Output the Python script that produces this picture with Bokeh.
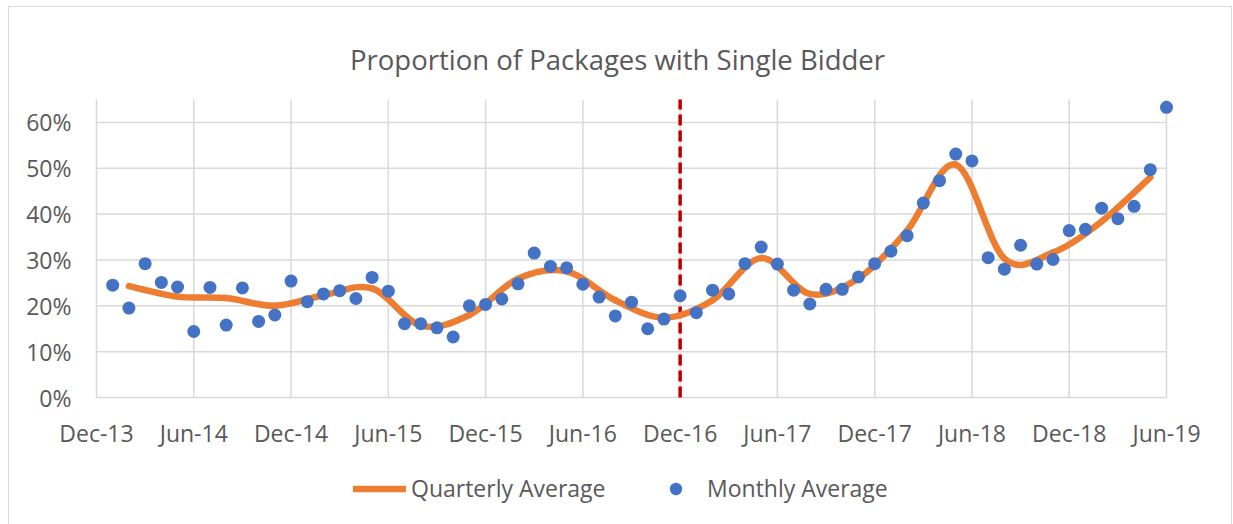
import pandas as pd
from bokeh.plotting import figure
from bokeh.models import Label, Legend, LegendItem, Range1d, ColumnDataSource
from bokeh.core.properties import value
from bokeh.embed import file_html
from bokeh.resources import INLINE

# ---------------- data ----------------
title_text = "Proportion of Packages with Single Bidder"
axis_origin = "2013-12"          # first x tick (Dec-13)
monthly_first, monthly_last = "2014-01", "2019-06"
monthly_avg = [
    0.245, 0.195, 0.292, 0.251, 0.241, 0.144, 0.240, 0.158, 0.239, 0.166, 0.180, 0.254,
    0.209, 0.226, 0.233, 0.216, 0.262, 0.232, 0.161, 0.161, 0.152, 0.132, 0.200, 0.203,
    0.215, 0.248, 0.315, 0.286, 0.283, 0.247, 0.219, 0.178, 0.208, 0.150, 0.171, 0.222,
    0.185, 0.234, 0.226, 0.292, 0.328, 0.291, 0.234, 0.204, 0.236, 0.236, 0.263, 0.292,
    0.319, 0.353, 0.424, 0.473, 0.531, 0.516, 0.305, 0.280, 0.332, 0.291, 0.301, 0.364,
    0.367, 0.413, 0.390, 0.417, 0.497, 0.633,
]
quarter_first, quarter_last = "2014Q1", "2019Q2"
quarterly_avg = [
    0.243, 0.220, 0.217, 0.200, 0.223, 0.238, 0.157, 0.180, 0.259, 0.275, 0.212,
    0.174, 0.212, 0.304, 0.226, 0.260, 0.364, 0.508, 0.303, 0.316, 0.384, 0.480,
]
tick_labels = ["Dec-13", "Jun-14", "Dec-14", "Jun-15", "Dec-15", "Jun-16",
               "Dec-16", "Jun-17", "Dec-17", "Jun-18", "Dec-18", "Jun-19"]
marker_month = "2016-12"
y_ticks = [0.0, 0.1, 0.2, 0.3, 0.4, 0.5, 0.6]
y_labels = ["0%", "10%", "20%", "30%", "40%", "50%", "60%"]
y_max = 0.65
series_names = ["Quarterly Average", "Monthly Average"]

# ---------------- x positions (months since Dec-13) ----------------
origin = pd.Period(axis_origin, freq="M")
months = pd.period_range(monthly_first, monthly_last, freq="M")
mx = [(m - origin).n for m in months]
quarters = pd.period_range(quarter_first, quarter_last, freq="Q")
qx = [((q.asfreq("M", how="start") + 1) - origin).n for q in quarters]   # mid-quarter month
tick_pos = [6 * i for i in range(len(tick_labels))]
marker_x = (pd.Period(marker_month, freq="M") - origin).n

# smoothed line segments (cubic Bezier, Excel-style smoothing)
n = len(qx)
def pt(i):
    i = min(max(i, 0), n - 1)
    return qx[i], quarterly_avg[i]
seg = dict(x0=[], y0=[], x1=[], y1=[], cx0=[], cy0=[], cx1=[], cy1=[])
for i in range(n - 1):
    xa, ya = pt(i); xb, yb = pt(i + 1); xm, ym = pt(i - 1); xp, yp = pt(i + 2)
    seg["x0"].append(xa); seg["y0"].append(ya)
    seg["x1"].append(xb); seg["y1"].append(yb)
    seg["cx0"].append(xa + (xb - xm) / 6); seg["cy0"].append(ya + (yb - ym) / 6)
    seg["cx1"].append(xb - (xp - xa) / 6); seg["cy1"].append(yb - (yp - ya) / 6)

# ---------------- layout (pixels) ----------------
W, H = 1233, 524
PL, PR, PT, PB = 96, 1166, 99, 397     # plot-area box inside the canvas
span_x = tick_pos[-1] - tick_pos[0]
x_start = tick_pos[0] - span_x * PL / (PR - PL)
x_end = tick_pos[-1] + span_x * (W - PR) / (PR - PL)
y_start = -y_max * (H - PB) / (PB - PT)
y_end = y_max + y_max * PT / (PB - PT)

FONT = value("Open Sans")
TXT = "#595959"
GRID = "#d9d9d9"

p = figure(width=W, height=H, output_backend="svg", toolbar_location=None,
           x_axis_type=None, y_axis_type=None, title_location=None,
           x_range=Range1d(x_start, x_end), y_range=Range1d(y_start, y_end),
           min_border_left=0, min_border_right=0, min_border_top=0, min_border_bottom=0,
           background_fill_color=None, border_fill_color=None)
p.outline_line_color = None
# outer chart border (left at x=8, top at y=6, right at x=1232)
p.styles = {
    "background":
        "linear-gradient(#d9d9d9,#d9d9d9) 8px 6px / 1px 518px no-repeat, "
        "linear-gradient(#d9d9d9,#d9d9d9) 8px 6px / 1224px 1px no-repeat, "
        "linear-gradient(#d9d9d9,#d9d9d9) 1231px 6px / 1px 518px no-repeat, "
        "white",
}

# gridlines
p.segment(x0=[tick_pos[0]] * len(y_ticks), x1=[tick_pos[-1]] * len(y_ticks),
          y0=y_ticks, y1=y_ticks, line_color=GRID, line_width=1.5)
p.segment(x0=tick_pos, x1=tick_pos, y0=[y_ticks[0]] * len(tick_pos),
          y1=[y_max] * len(tick_pos), line_color=GRID, line_width=1.5)

# tick labels
p.text(x=tick_pos, y=[y_ticks[0]] * len(tick_pos), text=tick_labels, y_offset=35,
       text_align="center", text_baseline="middle", text_font=FONT,
       text_font_size="23px", text_color=TXT)
p.text(x=[tick_pos[0]] * len(y_ticks), y=y_ticks, text=y_labels, x_offset=-25,
       text_align="right", text_baseline="middle", text_font=FONT,
       text_font_size="23px", text_color=TXT)

# marker line at Dec-16
p.segment(x0=[marker_x], x1=[marker_x], y0=[y_ticks[0]], y1=[y_max],
          line_color="#C00000", line_width=3.5, line_dash="11 5")

# series
qline = p.bezier(source=ColumnDataSource(seg), x0="x0", y0="y0", x1="x1", y1="y1",
                 cx0="cx0", cy0="cy0", cx1="cx1", cy1="cy1",
                 line_color="#ED7D31", line_width=6.5, line_cap="round")
qkey = p.line(x=[], y=[], line_color="#ED7D31", line_width=6.5, line_cap="round")
mpts = p.scatter(x=mx, y=monthly_avg, size=13, fill_color="#4472C4", line_color=None)

# title
p.add_layout(Label(x=617, y=H - 59, x_units="screen", y_units="screen", text=title_text,
                   text_font="Open Sans", text_font_size="27.5px", text_color=TXT,
                   text_align="center", text_baseline="alphabetic"))

# legend
legend = Legend(items=[LegendItem(label=series_names[0], renderers=[qline, qkey]),
                       LegendItem(label=series_names[1], renderers=[mpts])],
                location=(353, 20), orientation="horizontal",
                padding=0, margin=0, spacing=38, glyph_width=53, glyph_height=31,
                label_height=31, label_width=200, label_standoff=5,
                border_line_color=None, background_fill_alpha=0, label_text_font="Open Sans",
                label_text_font_size="23px", label_text_color=TXT)
p.add_layout(legend)

open("out.html", "w").write(file_html(p, INLINE))
